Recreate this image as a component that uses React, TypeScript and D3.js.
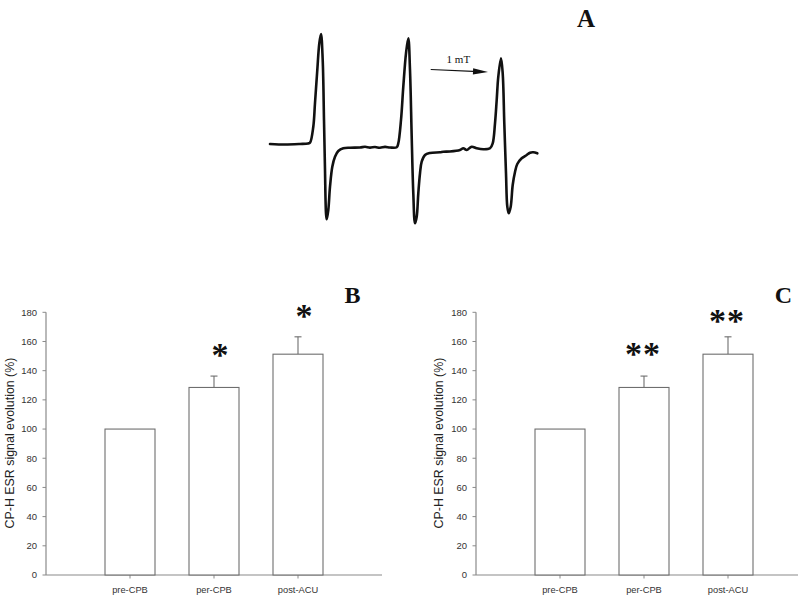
import React from "react";
import * as d3 from "d3";

// ---------- Panel A : ESR spectrum ----------
const spectrumField = [
  0, 15, 30, 38, 40, 43.3, 45, 47.3, 49.3, 51, 52.7, 54, 55, 56, 56.7, 58.3, 60, 62.3, 65, 68.3, 73.3, 80, 90, 95, 100, 105, 110, 115, 120, 126.7,
  128.3, 131, 133.3, 136, 138.3, 140, 141.7, 143.3, 145, 146.7, 148.3, 150, 151.7, 155, 160, 170, 173.3, 180, 190, 193.3, 196.7, 201.7, 206.7, 213.3, 220,
  222.7, 225, 226.7, 228.3, 231, 232.7, 234.3, 236, 237.3, 238.7, 240.7, 242.7, 245, 247.3, 251.7, 256.7, 260, 263.3, 267.3,
];
const spectrumSignal = [
  1, 0.5, 1, 1.5, 2.3, 18.3, 42, 75, 101.7, 111, 85, 25, -25, -68.3, -74.3, -65, -41.7, -21.7, -11.7, -6, -3.3, -2.7, -2.5, -1.8, -2.6, -2, -2.8, -1.9, -2.5, -2.3,
  1.7, 25, 58.3, 91.7, 106.7, 75, 8.3, -48.3, -78.3, -71.7, -48.3, -28.3, -16.7, -10, -8, -7.3, -6.7, -6.5, -5, -3.3, -5, -1.7, -3.3, -4.3, -3.3,
  1.7, 21.7, 45, 68.3, 86.7, 71.7, 21.7, -28.3, -61.7, -68.3, -61.7, -40, -27, -19, -13.3, -10, -7.7, -7.3, -8.3,
];
const arrowField = [160.7, 218];
const arrowSignal = [75.5, 73];
const scaleLabel = "1 mT";

// ---------- Panels B & C : bar charts ----------
const categories = ["pre-CPB", "per-CPB", "post-ACU"];
const meanValues = [100, 128.5, 151.3];
const errorValues = [0, 7.8, 11.9];
const yTicks = [0, 20, 40, 60, 80, 100, 120, 140, 160, 180];
const starsB = ["", "*", "*"];
const starsC = ["", "**", "**"];
const yLabel = "CP-H ESR signal evolution (%)";

const sans = "Arial, 'Liberation Sans', Helvetica, sans-serif";
const serif = "'Times New Roman', 'Liberation Serif', Times, serif";

function Spectrum() {
  const sx = d3.scaleLinear().domain([0, 268]).range([270, 538]);
  const sy = d3.scaleLinear().domain([-80, 112]).range([225, 33]);
  const pts = spectrumField.map((f, i) => [f, spectrumSignal[i]] as [number, number]);
  const line = d3
    .line<[number, number]>()
    .x((d) => sx(d[0]))
    .y((d) => sy(d[1]))
    .curve(d3.curveCatmullRom.alpha(0.5));
  const ax0 = sx(arrowField[0]);
  const ax1 = sx(arrowField[1]);
  const ay0 = sy(arrowSignal[0]);
  const ay1 = sy(arrowSignal[1]);
  const ang = Math.atan2(ay1 - ay0, ax1 - ax0);
  const hl = 15;
  const hw = 3.2;
  const bx = ax1 - hl * Math.cos(ang);
  const by = ay1 - hl * Math.sin(ang);
  const head = `M${ax1},${ay1} L${bx - hw * Math.sin(ang)},${by + hw * Math.cos(ang)} L${bx + hw * Math.sin(ang)},${by - hw * Math.cos(ang)} Z`;
  return (
    <g>
      <path d={line(pts) || ""} fill="none" stroke="#111" strokeWidth={2.6} strokeLinejoin="round" strokeLinecap="round" />
      <line x1={ax0} y1={ay0} x2={bx} y2={by} stroke="#111" strokeWidth={1.1} />
      <path d={head} fill="#111" />
      <text x={(ax0 + ax1) / 2 - 1} y={63.3} textAnchor="middle" fontFamily={serif} fontSize={11} fill="#111">
        {scaleLabel}
      </text>
      <text x={586} y={26.7} textAnchor="middle" fontFamily={serif} fontWeight="bold" fontSize={25} fill="#111">
        A
      </text>
    </g>
  );
}

function BarPanel({ x0, stars, letter, letterX, labelX, starYOffsets }: { x0: number; stars: string[]; letter: string; letterX: number; labelX: number; starYOffsets: number[] }) {
  const x = d3.scaleLinear().domain([0, 4]).range([x0, x0 + 336]);
  const y = d3.scaleLinear().domain([0, 180]).range([575, 312.3]);
  const barW = 50;
  const axisColor = "#8a8a8a";
  const barColor = "#6e6e6e";
  return (
    <g>
      <line x1={x0} y1={y(0)} x2={x0} y2={y(180)} stroke={axisColor} strokeWidth={1.2} />
      {yTicks.map((t) => (
        <g key={t}>
          <line x1={x0 - 3.5} x2={x0} y1={y(t)} y2={y(t)} stroke={axisColor} strokeWidth={1} />
          <text x={x0 - 9} y={y(t)} dy="0.35em" textAnchor="end" fontFamily={sans} fontSize={9.5} fill="#333">
            {t}
          </text>
        </g>
      ))}
      <line x1={x0} y1={y(0)} x2={x(4)} y2={y(0)} stroke={axisColor} strokeWidth={1.2} />
      {categories.map((c, i) => (
        <g key={c}>
          <line x1={x(i + 1)} x2={x(i + 1)} y1={y(0)} y2={y(0) + 3.5} stroke={axisColor} strokeWidth={1} />
          <text x={x(i + 1)} y={593} textAnchor="middle" fontFamily={sans} fontSize={9.3} fill="#333">
            {c}
          </text>
        </g>
      ))}
      {meanValues.map((v, i) => {
        const cx = x(i + 1);
        const top = y(v);
        const eTop = y(v + errorValues[i]);
        return (
          <g key={i}>
            {errorValues[i] > 0 && (
              <g>
                <line x1={cx} x2={cx} y1={top} y2={eTop} stroke={barColor} strokeWidth={1.1} />
                <line x1={cx - 3.5} x2={cx + 3.5} y1={eTop} y2={eTop} stroke={barColor} strokeWidth={1.1} />
              </g>
            )}
            <rect x={cx - barW / 2} y={top} width={barW} height={y(0) - top} fill="#fff" stroke={barColor} strokeWidth={1.1} />
            {stars[i] && (
              <text
                x={cx + (stars[i].length === 1 ? 6 : -1)}
                y={eTop + starYOffsets[i]}
                textAnchor="middle"
                fontFamily={serif}
                fontWeight="bold"
                fontSize={34}
                letterSpacing={stars[i].length > 1 ? 1 : 0}
                fill="#111"
              >
                {stars[i]}
              </text>
            )}
          </g>
        );
      })}
      <text x={letterX} y={303.3} textAnchor="middle" fontFamily={serif} fontWeight="bold" fontSize={24} fill="#111">
        {letter}
      </text>
      <text
        transform={`translate(${labelX},${443}) rotate(-90)`}
        textAnchor="middle"
        fontFamily={sans}
        fontSize={12.4}
        fill="#222"
      >
        {yLabel}
      </text>
    </g>
  );
}

export default function App() {
  return (
    <svg width={798} height={600} style={{ position: "absolute", left: 0, top: 0, background: "#fff" }}>
      <rect x={0} y={0} width={798} height={600} fill="#fff" />
      <Spectrum />
      <BarPanel x0={46} stars={starsB} letter="B" letterX={352.5} labelX={13.5} starYOffsets={[0, -10, -10]} />
      <BarPanel x0={476} stars={starsC} letter="C" letterX={783.5} labelX={442.5} starYOffsets={[0, -11, -5]} />
    </svg>
  );
}
